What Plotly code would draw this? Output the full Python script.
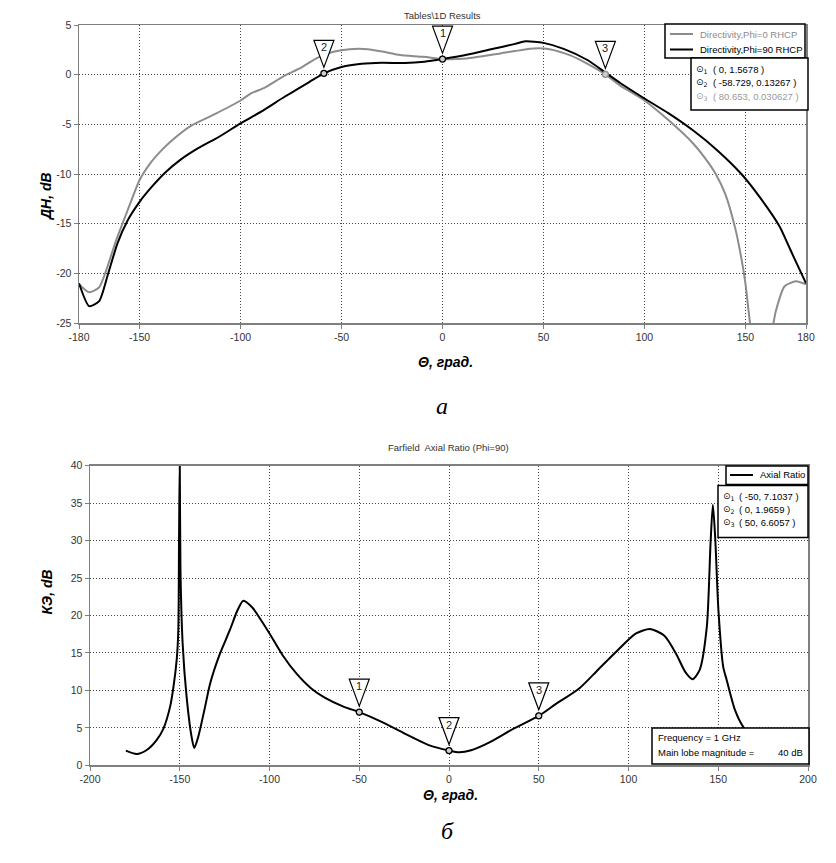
import plotly.graph_objects as go

W, H = 836, 863

# ---------------- data: top chart (directivity) ----------------
theta_phi0 = [-180, -175, -170, -161.5, -156, -150, -145, -140, -135, -125, -113, -100, -95, -88, -79,
              -70, -62, -54, -46, -37, -29, -21, -9.4, 0, 12, 28.6, 45, 53, 63, 70, 80.65, 88, 100,
              112, 124, 130, 135, 140, 145, 148, 150, 152.3, 156, 160, 163.9, 165.2, 169.4, 175, 180]
dir_phi0 = [-21.1, -21.9, -21.4, -16.6, -13.7, -10.6, -9.0, -7.8, -6.8, -5.2, -4.0, -2.6, -1.9, -1.3, -0.2,
            0.7, 1.7, 2.3, 2.57, 2.57, 2.3, 1.97, 1.8, 1.57, 1.63, 2.14, 2.64, 2.57, 1.97, 1.29, 0.03, -1.1, -2.6,
            -4.6, -6.9, -8.4, -9.9, -12.0, -15.5, -18.5, -21.0, -25.0, -29.0, -30.0, -25.0, -23.7, -21.3, -20.8, -21.1]

theta_phi90 = [-180, -175, -170, -165.8, -161, -156, -150, -144, -137, -130, -121, -111, -100, -90, -78,
               -66, -58.7, -50, -40, -30, -18.5, -9, 0, 12, 24, 36, 41, 50, 60, 72, 80.7, 88, 100, 112,
               124, 136, 148, 157, 167, 170, 174, 180]
dir_phi90 = [-21.0, -23.3, -22.8, -20.2, -17.0, -14.7, -12.8, -11.3, -9.8, -8.6, -7.4, -6.3, -4.9, -3.75, -2.2,
             -0.74, 0.13, 0.77, 1.1, 1.2, 1.17, 1.3, 1.57, 2.0, 2.55, 3.1, 3.36, 3.2, 2.6, 1.45, 0.2, -0.84, -2.4, -3.9,
             -5.6, -7.6, -10.0, -12.3, -15.3, -16.6, -18.4, -21.0]

top_series_names = ["Directivity,Phi=0 RHCP", "Directivity,Phi=90 RHCP"]

top_marker_ids = ["1", "2", "3"]
top_marker_x = [0, -58.729, 80.653]
top_marker_y = [1.5678, 0.13267, 0.030627]
top_marker_labels = ["( 0, 1.5678 )", "( -58.729, 0.13267 )", "( 80.653, 0.030627 )"]

top_xticks = [-180, -150, -100, -50, 0, 50, 100, 150, 180]
top_xticktext = ["-180", "-150", "-100", "-50", "0", "50", "100", "150", "180"]
top_yticks = [5, 0, -5, -10, -15, -20, -25]
top_yticktext = ["5", "0", "-5", "-10", "-15", "-20", "-25"]

# ---------------- data: bottom chart (axial ratio) ----------------
ar_theta = [-180, -174, -168.4, -162.8, -159.1, -155.4, -153.6, -151.7, -150.8, -150.4, -150.0, -149.6,
            -148.4, -146.2, -143.4, -141.9, -139.7, -135.9, -133.1, -127.6, -122, -118, -114.6, -109.7,
            -104.5, -100, -92.7, -84.8, -76.9, -69, -58.5, -50, -37.5, -24.4, -11.3, 0, 5.8, 12.3, 22.8,
            36, 50, 59.6, 72.7, 83.2, 93.7, 104.2, 112, 120, 126.5, 131.8, 135.7, 139.6, 143.6, 145.7,
            147.0, 148.3, 150.1, 152.8, 154.7, 159.3, 164, 170, 175, 180]
ar_val = [1.95, 1.5, 2.04, 3.4, 4.9, 7.8, 10.3, 14.1, 18, 30, 41, 26,
          16.3, 9.2, 3.8, 2.3, 3.8, 7.8, 10.9, 14.9, 18.1, 20.6, 21.97, 21.1,
          19.3, 17.6, 14.7, 12.2, 10.3, 9.0, 7.8, 7.1, 5.8, 4.2, 2.7, 1.97, 1.73, 2.0, 3.1,
          4.9, 6.6, 8.2, 10.3, 12.8, 15.3, 17.6, 18.2, 17.3, 14.9, 12.4, 11.5, 12.7, 18.4, 29.6,
          34.8, 30.4, 20.7, 13.1, 11.4, 7.4, 5.1, 3.6, 2.8, 2.2]
bot_series_name = "Axial Ratio"

bot_marker_ids = ["1", "2", "3"]
bot_marker_x = [-50, 0, 50]
bot_marker_y = [7.1037, 1.9659, 6.6057]
bot_marker_labels = ["( -50, 7.1037 )", "( 0, 1.9659 )", "( 50, 6.6057 )"]

bot_xticks = [-200, -150, -100, -50, 0, 50, 100, 150, 200]
bot_xticktext = ["-200", "-150", "-100", "-50", "0", "50", "100", "150", "200"]
bot_yticks = [0, 5, 10, 15, 20, 25, 30, 35, 40]
bot_yticktext = ["0", "5", "10", "15", "20", "25", "30", "35", "40"]

info_left = ["Frequency = 1 GHz", "Main lobe magnitude ="]
info_right = "40 dB"

# ---------------- figure ----------------
GRAY = "#8c8c8c"
FONT = "Liberation Sans"
SMALL = 9.5
fig = go.Figure()

fig.add_trace(go.Scatter(x=theta_phi0, y=dir_phi0, mode="lines", xaxis="x", yaxis="y",
                         line=dict(color=GRAY, width=2, shape="spline", smoothing=0.6),
                         name=top_series_names[0]))
fig.add_trace(go.Scatter(x=theta_phi90, y=dir_phi90, mode="lines", xaxis="x", yaxis="y",
                         line=dict(color="black", width=2, shape="spline", smoothing=0.6),
                         name=top_series_names[1]))
fig.add_trace(go.Scatter(x=ar_theta, y=ar_val, mode="lines", xaxis="x2", yaxis="y2",
                         line=dict(color="black", width=2, shape="spline", smoothing=0.7),
                         name=bot_series_name))

shapes = []
annotations = []


def add_markers(xs, ys, ids, colors, xa, ya):
    fig.add_trace(go.Scatter(x=xs, y=ys, mode="markers", xaxis=xa, yaxis=ya, showlegend=False,
                             marker=dict(symbol="circle", size=6, color="#cfcfcf",
                                         line=dict(color=colors, width=1.3)),
                             hoverinfo="skip"))
    for xv, yv, idv in zip(xs, ys, ids):
        shapes.append(dict(type="path", xref=xa, yref=ya, xsizemode="pixel", ysizemode="pixel",
                           xanchor=xv, yanchor=yv, path="M -10,33 L 10,33 L 0,6 Z",
                           line=dict(color="black", width=1.2), fillcolor="white", layer="above"))
        annotations.append(dict(x=xv, y=yv, xref=xa, yref=ya, text=idv, showarrow=False,
                                yshift=26, font=dict(family=FONT, size=11, color="#222")))


add_markers(top_marker_x, top_marker_y, top_marker_ids, ["black", "black", GRAY], "x", "y")
add_markers(bot_marker_x, bot_marker_y, bot_marker_ids, ["black"] * 3, "x2", "y2")

TICKFONT = dict(family=FONT, size=10.5, color="#333")
axis_common = dict(showline=True, linecolor="#7f7f7f", linewidth=1.5, mirror=True,
                   ticks="outside", ticklen=4, tickcolor="#7f7f7f",
                   showgrid=True, gridcolor="#444", griddash="1px,2px", gridwidth=1,
                   zeroline=False, tickfont=TICKFONT, fixedrange=True, automargin=False,
                   tickmode="array")

fig.update_layout(
    width=W, height=H, autosize=False,
    margin=dict(l=0, r=0, t=0, b=0, pad=0),
    paper_bgcolor="white", plot_bgcolor="white",
    xaxis=dict(domain=[79 / W, 806 / W], range=[-180, 180], tickvals=top_xticks, ticktext=top_xticktext,
               anchor="y", **axis_common),
    yaxis=dict(domain=[1 - 323 / H, 1 - 25 / H], range=[-25, 5], tickvals=top_yticks, ticktext=top_yticktext,
               anchor="x", **axis_common),
    xaxis2=dict(domain=[90 / W, 808 / W], range=[-200, 200], tickvals=bot_xticks, ticktext=bot_xticktext,
                anchor="y2", **axis_common),
    yaxis2=dict(domain=[1 - 765.3 / H, 1 - 465.7 / H], range=[0, 40], tickvals=bot_yticks, ticktext=bot_yticktext,
                anchor="x2", **axis_common),
    showlegend=False,
    hovermode=False,
)


def px(x):
    return x / W


def py(y):
    return 1 - y / H


def box(x0, y0, x1, y1):
    shapes.append(dict(type="rect", xref="paper", yref="paper", x0=px(x0), x1=px(x1), y0=py(y0), y1=py(y1),
                       line=dict(color="black", width=1.5), fillcolor="white", layer="above"))


def text_at(text, x, y, color="black", size=SMALL, anchor="left", family=FONT):
    annotations.append(dict(text=text, x=px(x), y=py(y), xref="paper", yref="paper", xanchor=anchor,
                            yanchor="middle", showarrow=False, font=dict(family=family, size=size, color=color)))


def legend_item(x0, x1, y, color, text, tcolor):
    shapes.append(dict(type="line", xref="paper", yref="paper", x0=px(x0), x1=px(x1), y0=py(y), y1=py(y),
                       line=dict(color=color, width=2), layer="above"))
    text_at(text, x1 + 5, y, tcolor)


# top legend
box(665, 24, 805, 58)
legend_item(670, 693, 34, GRAY, top_series_names[0], GRAY)
legend_item(670, 693, 49.5, "black", top_series_names[1], "black")

# bottom legend
box(726, 466, 808, 484.5)
legend_item(730, 753, 475, "black", bot_series_name, "black")


def marker_table(x0, y0, x1, y1, labels, colors, icon_x, text_x, row_y):
    box(x0, y0, x1, y1)
    for i, (lab, col, ry) in enumerate(zip(labels, colors, row_y)):
        text_at("⊙<sub>%d</sub>" % (i + 1), icon_x, ry, col, 9, family="DejaVu Sans")
        text_at(lab, text_x, ry, col)


marker_table(691, 58, 808, 110, top_marker_labels, ["black", "black", "#999"], 694, 711, [69, 82.5, 96.5])
marker_table(718, 485.5, 808, 537.5, bot_marker_labels, ["black"] * 3, 721, 737, [496, 509, 522.5])

# info box
box(652, 728, 809, 764)
text_at(info_left[0], 656, 737.5)
text_at(info_left[1], 656, 752)
text_at(info_right, 805, 752, anchor="right")

LBL = dict(family="Liberation Sans", size=14, color="black")
annotations += [
    dict(text="Tables\\1D Results", x=px(443), y=py(8), xref="paper", yref="paper", showarrow=False,
         font=dict(family=FONT, size=9.5, color="#333")),
    dict(text="Farfield  Axial Ratio (Phi=90)", x=px(448), y=py(447), xref="paper", yref="paper",
         showarrow=False, font=dict(family=FONT, size=9.5, color="#333")),
    dict(text="<b><i>ДН, dB</i></b>", x=px(36), y=py(170), xref="paper", yref="paper", showarrow=False,
         textangle=-90, font=LBL),
    dict(text="<b><i>КЭ, dB</i></b>", x=px(36), y=py(617), xref="paper", yref="paper", showarrow=False,
         textangle=-90, font=LBL),
    dict(text="<b><i>Θ, град.</i></b>", x=px(445), y=py(362), xref="paper", yref="paper", showarrow=False,
         font=LBL),
    dict(text="<b><i>Θ, град.</i></b>", x=px(450), y=py(805), xref="paper", yref="paper", showarrow=False,
         font=LBL),
    dict(text="<i>а</i>", x=px(442), y=py(406), xref="paper", yref="paper", showarrow=False,
         font=dict(family="Liberation Serif", size=24, color="black")),
    dict(text="<i>б</i>", x=px(447), y=py(846), xref="paper", yref="paper", showarrow=False,
         font=dict(family="Liberation Serif", size=24, color="black")),
]

fig.update_layout(shapes=shapes, annotations=annotations)

fig.write_html("out.html", config={"displayModeBar": False, "staticPlot": True},
               post_script="document.body.style.margin='0';")
